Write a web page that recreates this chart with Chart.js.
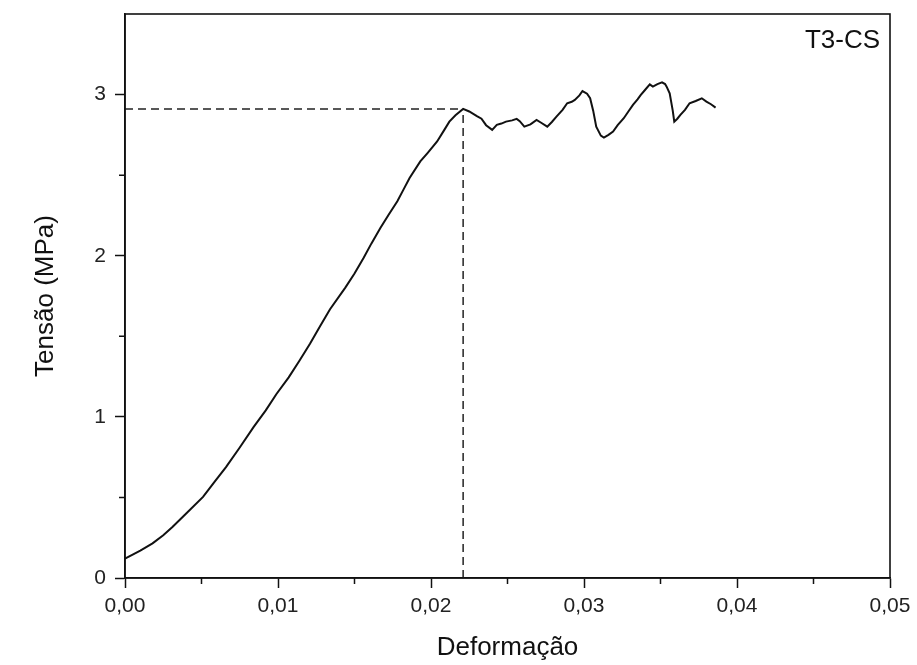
<!DOCTYPE html>
<html>
<head>
<meta charset="utf-8">
<script src="https://cdn.jsdelivr.net/npm/chart.js@4/dist/chart.umd.min.js"></script>
<style>
  html, body { margin: 0; padding: 0; background: #ffffff; }
  #wrap { width: 917px; height: 665px; }
</style>
</head>
<body>
<div id="wrap"><canvas id="c" width="917" height="665"></canvas></div>
<script>
// Tensile test T3-CS: stress vs. strain
const strain = [
  0.0000, 0.0005, 0.0010, 0.0018, 0.0025, 0.0031, 0.0040, 0.0051, 0.0058, 0.0066,
  0.0075, 0.0084, 0.0092, 0.0099, 0.0107, 0.0114, 0.0121, 0.0127, 0.0134, 0.0144,
  0.0150, 0.0156, 0.0161, 0.0167, 0.0172, 0.0178, 0.0182, 0.0186, 0.0193, 0.0198,
  0.0204, 0.0208, 0.0212, 0.0216, 0.0221, 0.0225, 0.0230, 0.0233, 0.0236, 0.0240,
  0.0243, 0.0246, 0.0249, 0.0253, 0.0256, 0.0258, 0.0261, 0.0265, 0.0269, 0.0272,
  0.0276, 0.0279, 0.0282, 0.0286, 0.0289, 0.0292, 0.0294, 0.0297, 0.0299, 0.0302,
  0.0304, 0.0306, 0.0308, 0.0311, 0.0313, 0.0316, 0.0319, 0.0322, 0.0326, 0.0329,
  0.0332, 0.0335, 0.0337, 0.0340, 0.0343, 0.0345, 0.0348, 0.0351, 0.0353, 0.0354,
  0.0356, 0.0358, 0.0359, 0.0361, 0.0363, 0.0366, 0.0369, 0.0373, 0.0377, 0.0380,
  0.0383, 0.0386
];
const stress = [
  0.120, 0.145, 0.170, 0.215, 0.265, 0.317, 0.400, 0.503, 0.590, 0.688,
  0.810, 0.936, 1.040, 1.142, 1.245, 1.348, 1.455, 1.554, 1.668, 1.802,
  1.890, 1.987, 2.075, 2.173, 2.250, 2.338, 2.410, 2.482, 2.585, 2.640,
  2.709, 2.770, 2.832, 2.872, 2.911, 2.895, 2.866, 2.850, 2.810, 2.781,
  2.812, 2.820, 2.832, 2.840, 2.849, 2.835, 2.801, 2.815, 2.843, 2.825,
  2.801, 2.830, 2.863, 2.905, 2.946, 2.955, 2.967, 2.995, 3.022, 3.005,
  2.977, 2.900, 2.801, 2.745, 2.733, 2.750, 2.771, 2.810, 2.853, 2.895,
  2.936, 2.970, 2.997, 3.030, 3.063, 3.049, 3.065, 3.076, 3.065, 3.049,
  3.008, 2.900, 2.832, 2.850, 2.874, 2.905, 2.946, 2.960, 2.977, 2.956,
  2.940, 2.919
];

// Peak marked by the dashed guide lines
const peakStrain = 0.0221;
const peakStress = 2.911;

// Axis settings
const xTicks = [0.00, 0.01, 0.02, 0.03, 0.04, 0.05];
const xMinorTicks = [0.005, 0.015, 0.025, 0.035, 0.045];
const yTicks = [0, 1, 2, 3];
const yMinorTicks = [0.5, 1.5, 2.5];
const xRange = [0, 0.05];
const yRange = [0, 3.5];

const sampleLabel = 'T3-CS';
const xTitle = 'Deformação';
const yTitle = 'Tensão (MPa)';

const curve = strain.map((s, i) => ({ x: s, y: stress[i] }));
const hGuide = [{ x: 0, y: peakStress }, { x: peakStrain, y: peakStress }];
const vGuide = [{ x: peakStrain, y: 0 }, { x: peakStrain, y: peakStress }];

const FONT = "'Liberation Sans', Arial, sans-serif";

// Frame, minor ticks and sample label
const framePlugin = {
  id: 'frame',
  afterDraw(chart) {
    const { ctx, chartArea: a, scales } = chart;
    ctx.save();
    ctx.strokeStyle = '#111';
    ctx.lineWidth = 1.6;
    ctx.strokeRect(a.left, a.top, a.right - a.left, a.bottom - a.top);
    ctx.lineWidth = 1.5;
    ctx.beginPath();
    xMinorTicks.forEach(v => {
      const px = scales.x.getPixelForValue(v);
      ctx.moveTo(px, a.bottom);
      ctx.lineTo(px, a.bottom + 6);
    });
    yMinorTicks.forEach(v => {
      const py = scales.y.getPixelForValue(v);
      ctx.moveTo(a.left, py);
      ctx.lineTo(a.left - 6, py);
    });
    ctx.stroke();
    ctx.fillStyle = '#111';
    ctx.font = '26px ' + FONT;
    ctx.textAlign = 'right';
    ctx.textBaseline = 'middle';
    ctx.fillText(sampleLabel, a.right - 10, a.top + 27);
    ctx.restore();
  }
};

new Chart(document.getElementById('c'), {
  type: 'scatter',
  data: {
    datasets: [
      {
        data: curve, showLine: true, borderColor: '#111', borderWidth: 2,
        pointRadius: 0, tension: 0, order: 1
      },
      {
        data: hGuide, showLine: true, borderColor: '#222', borderWidth: 1.5,
        borderDash: [8, 5], pointRadius: 0, order: 2
      },
      {
        data: vGuide, showLine: true, borderColor: '#222', borderWidth: 1.5,
        borderDash: [8, 5], pointRadius: 0, order: 2
      }
    ]
  },
  options: {
    responsive: false,
    animation: false,
    layout: { padding: { top: 14, right: 27, left: 0, bottom: 0 } },
    plugins: { legend: { display: false }, tooltip: { enabled: false } },
    scales: {
      x: {
        type: 'linear', min: xRange[0], max: xRange[1],
        afterBuildTicks: s => { s.ticks = xTicks.map(v => ({ value: v })); },
        afterFit: s => { s.height = 87; s.paddingLeft = 0; s.paddingRight = 0; },
        border: { display: true, color: '#111', width: 1.6 },
        grid: { drawOnChartArea: false, tickLength: 10, tickColor: '#111', tickWidth: 1.5 },
        ticks: {
          padding: 6, color: '#222', font: { family: FONT, size: 21 },
          callback: v => v.toFixed(2).replace('.', ',')
        },
        title: {
          display: true, text: xTitle, color: '#111',
          font: { family: FONT, size: 26 }, padding: { top: 0, bottom: 2 }
        }
      },
      y: {
        type: 'linear', min: yRange[0], max: yRange[1],
        afterBuildTicks: s => { s.ticks = yTicks.map(v => ({ value: v })); },
        afterFit: s => { s.width = 125; s.paddingTop = 0; s.paddingBottom = 0; },
        border: { display: true, color: '#111', width: 1.6 },
        grid: { drawOnChartArea: false, tickLength: 10, tickColor: '#111', tickWidth: 1.5 },
        ticks: {
          padding: 9, color: '#222', font: { family: FONT, size: 21 },
          callback: v => String(v)
        },
        title: {
          display: true, text: yTitle, color: '#111',
          font: { family: FONT, size: 26 }, padding: { top: 30, bottom: 0 }
        }
      }
    }
  },
  plugins: [framePlugin]
});
</script>
</body>
</html>
